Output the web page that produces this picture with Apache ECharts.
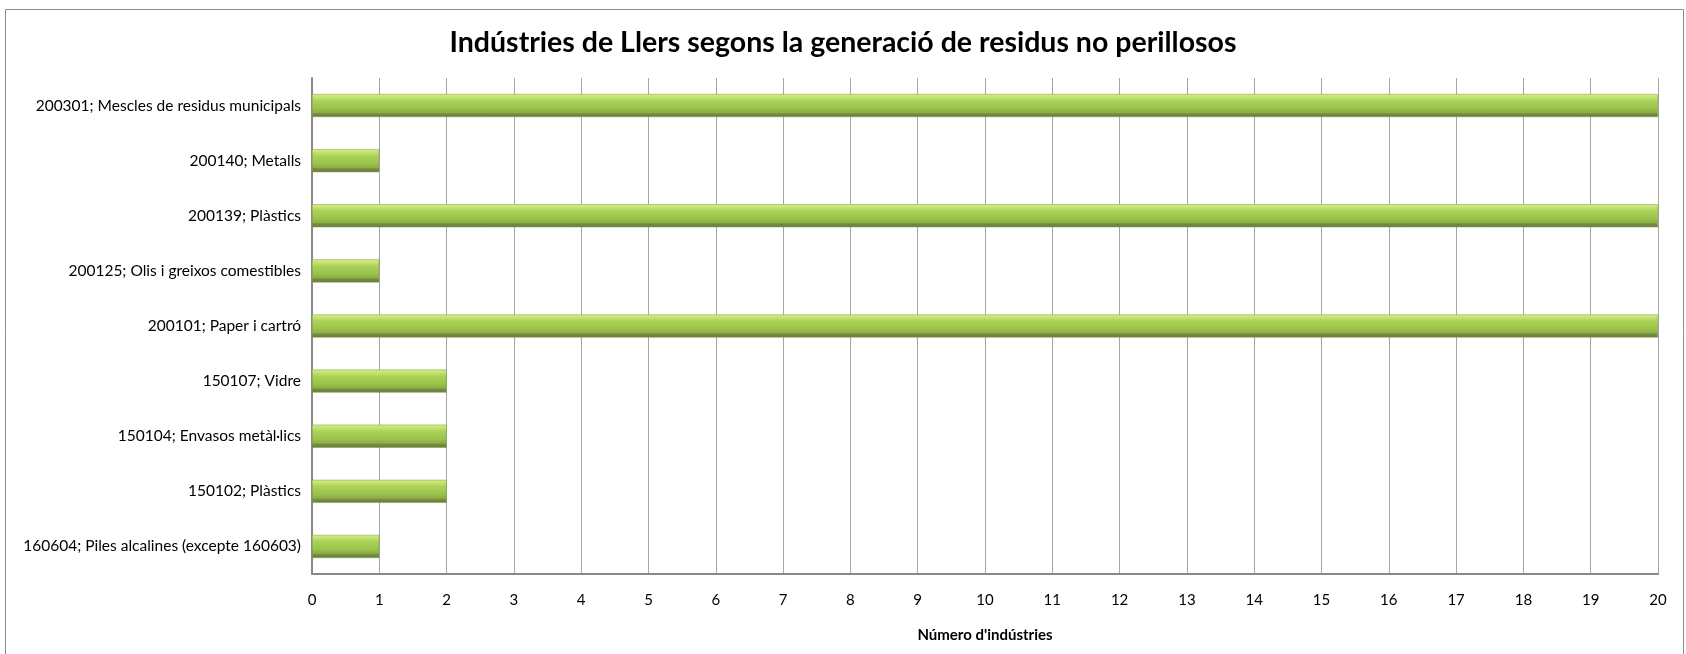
<!DOCTYPE html>
<html>
<head>
<meta charset="utf-8">
<script src="https://cdn.jsdelivr.net/npm/echarts@6/dist/echarts.min.js"></script>
<style>
  html, body { margin: 0; padding: 0; background: #fff; }
  #chart { width: 1686px; height: 654px; }
</style>
</head>
<body>
<div id="chart"></div>
<script>
// categories, bottom to top (as ECharts lays out a category y axis)
const categories = [
  "160604; Piles alcalines (excepte 160603)",
  "150102; Plàstics",
  "150104; Envasos metàl·lics",
  "150107; Vidre",
  "200101; Paper i cartró",
  "200125; Olis i greixos comestibles",
  "200139; Plàstics",
  "200140; Metalls",
  "200301; Mescles de residus municipals"
];
const industries = [1, 2, 2, 2, 20, 1, 20, 1, 20];

const titleText = "Indústries de Llers segons la generació de residus no perillosos";
const xAxisName = "Número d'indústries";

const FONT = "Lato, 'Liberation Sans', sans-serif";

const chart = echarts.init(document.getElementById("chart"));

// vertical gradient to fake the bevelled excel bar
const barColor = new echarts.graphic.LinearGradient(0, 0, 0, 1, [
  { offset: 0, color: "#d6ef88" },
  { offset: 0.12, color: "#c6e474" },
  { offset: 0.3, color: "#aad157" },
  { offset: 0.6, color: "#9cc44c" },
  { offset: 0.8, color: "#8cae43" },
  { offset: 0.86, color: "#748a42" },
  { offset: 1, color: "#6c7e3e" }
]);

const option = {
  animation: false,
  backgroundColor: "#fff",
  title: {
    text: titleText,
    left: "center",
    top: 23,
    textStyle: {
      fontFamily: FONT,
      fontWeight: "bold",
      fontSize: 28.5,
      color: "#000"
    }
  },
  graphic: [
    {
      type: "rect",
      shape: { x: 5.5, y: 9.5, width: 1678, height: 660 },
      style: { fill: "none", stroke: "#8c8c8c", lineWidth: 1 },
      silent: true
    }
  ],
  grid: {
    left: 312,
    right: 28,
    top: 78,
    bottom: 80,
    containLabel: false
  },
  xAxis: {
    type: "value",
    min: 0,
    max: 20,
    interval: 1,
    name: xAxisName,
    nameLocation: "middle",
    nameGap: 54,
    nameTextStyle: {
      fontFamily: FONT,
      fontWeight: "bold",
      fontSize: 15,
      color: "#000"
    },
    axisLine: { show: true, lineStyle: { color: "#888", width: 2 } },
    axisTick: { show: false },
    axisLabel: {
      margin: 19,
      fontFamily: FONT,
      fontSize: 15,
      color: "#000"
    },
    splitLine: { show: true, lineStyle: { color: "#a6a6a6", width: 1 } }
  },
  yAxis: {
    type: "category",
    data: categories,
    axisLine: { show: true, lineStyle: { color: "#888", width: 2 } },
    axisTick: { show: false },
    axisLabel: {
      margin: 11,
      fontFamily: FONT,
      fontSize: 15.5,
      color: "#000"
    },
    splitLine: { show: false }
  },
  series: [
    {
      type: "bar",
      data: industries,
      barWidth: 23,
      itemStyle: {
        color: barColor,
        borderColor: "#7a9a3a",
        borderWidth: 0.5
      },
      emphasis: { disabled: true }
    }
  ]
};

chart.setOption(option);
</script>
</body>
</html>
